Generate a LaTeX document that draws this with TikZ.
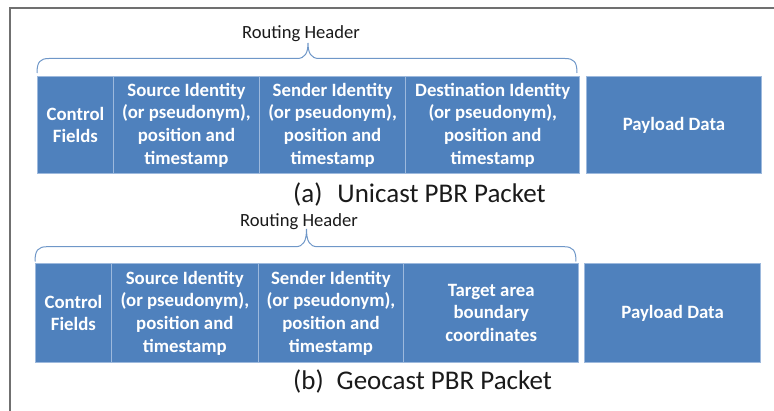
\documentclass[tikz,border=0pt]{standalone}
\usepackage{fontspec}
\setmainfont{Carlito}
\usetikzlibrary{calc}

\definecolor{boxblue}{HTML}{4F81BD}
\definecolor{boxedge}{HTML}{9DB9DD}
\definecolor{bracecol}{HTML}{6F97C8}
\definecolor{framegray}{HTML}{707070}
\definecolor{txt}{HTML}{1A1A1A}

\tikzset{
  field/.style={rectangle, fill=boxblue, draw=boxedge, line width=0.9pt,
    inner sep=0pt, anchor=north west, align=center, text=white,
    font=\fontsize{18.8}{22.7}\selectfont\bfseries},
  headerlabel/.style={anchor=base, inner sep=0pt, text=txt,
    font=\fontsize{18.6}{22.7}\selectfont},
  caption/.style={anchor=base west, inner sep=0pt, text=txt,
    font=\fontsize{27}{31}\selectfont},
  bracestyle/.style={draw=bracecol, line width=1pt},
}

\begin{document}
\begin{tikzpicture}[x=1pt, y=-1pt]
\useasboundingbox (0,0) rectangle (774,411);

% outer frame
\draw[framegray, line width=2pt] (9.5,411) -- (9.5,8.5) -- (774,8.5);

% ---------- (a) unicast packet ----------
\node[field, minimum width=76pt,  minimum height=97pt] (ua) at (37,76)    {Control\\Fields};
\node[field, minimum width=146pt, minimum height=97pt] (ub) at (113,76)   {Source Identity\\(or pseudonym),\\position and\\timestamp};
\node[field, minimum width=146.3pt, minimum height=97pt] (uc) at (259,76) {Sender Identity\\(or pseudonym),\\position and\\timestamp};
\node[field, minimum width=174pt, minimum height=97pt] (ud) at (405.3,76) {Destination Identity\\(or pseudonym),\\position and\\timestamp};
\node[field, minimum width=174.4pt, minimum height=97pt] (ue) at (586.3,76) {Payload Data};

% routing header brace over the first four fields
\coordinate (ul) at (37,73);
\coordinate (ur) at (577,73);
\coordinate (ut) at (308,43);
\draw[bracestyle] (ul) .. controls (37,62) and (40,58.5) .. (49,58.5)
  -- (297,58.5) .. controls (305,58.5) and (308,53) .. (ut)
  .. controls (308,53) and (311,58.5) .. (319,58.5)
  -- (565,58.5) .. controls (574,58.5) and (577,62) .. (ur);
\node[headerlabel] (uh) at (301,38.3) {Routing Header};

\node[caption] (ucap) at (293,203) {(a)\hspace{15pt}Unicast PBR Packet};

% ---------- (b) geocast packet ----------
\node[field, minimum width=76pt,  minimum height=98.4pt] (ga) at (35,263.3)    {Control\\Fields};
\node[field, minimum width=146.7pt, minimum height=98.4pt] (gb) at (111,263.3) {Source Identity\\(or pseudonym),\\position and\\timestamp};
\node[field, minimum width=145.6pt, minimum height=98.4pt] (gc) at (257.7,263.3) {Sender Identity\\(or pseudonym),\\position and\\timestamp};
\node[field, minimum width=175pt, minimum height=98.4pt] (gd) at (403.3,263.3) {Target area\\boundary\\coordinates};
\node[field, minimum width=175.7pt, minimum height=98.4pt] (ge) at (584.3,263.3) {Payload Data};

\coordinate (gl) at (35,261.5);
\coordinate (gr) at (576,261.5);
\coordinate (gt) at (306.5,229);
\draw[bracestyle] (gl) .. controls (35,250.5) and (38,246.7) .. (47,246.7)
  -- (295.5,246.7) .. controls (303.5,246.7) and (306.5,241) .. (gt)
  .. controls (306.5,241) and (309.5,246.7) .. (317.5,246.7)
  -- (564,246.7) .. controls (573,246.7) and (576,250.5) .. (gr);
\node[headerlabel] (gh) at (299,226.7) {Routing Header};

\node[caption] (gcap) at (293,390) {(b)\hspace{13pt}Geocast PBR Packet};
\end{tikzpicture}
\end{document}
